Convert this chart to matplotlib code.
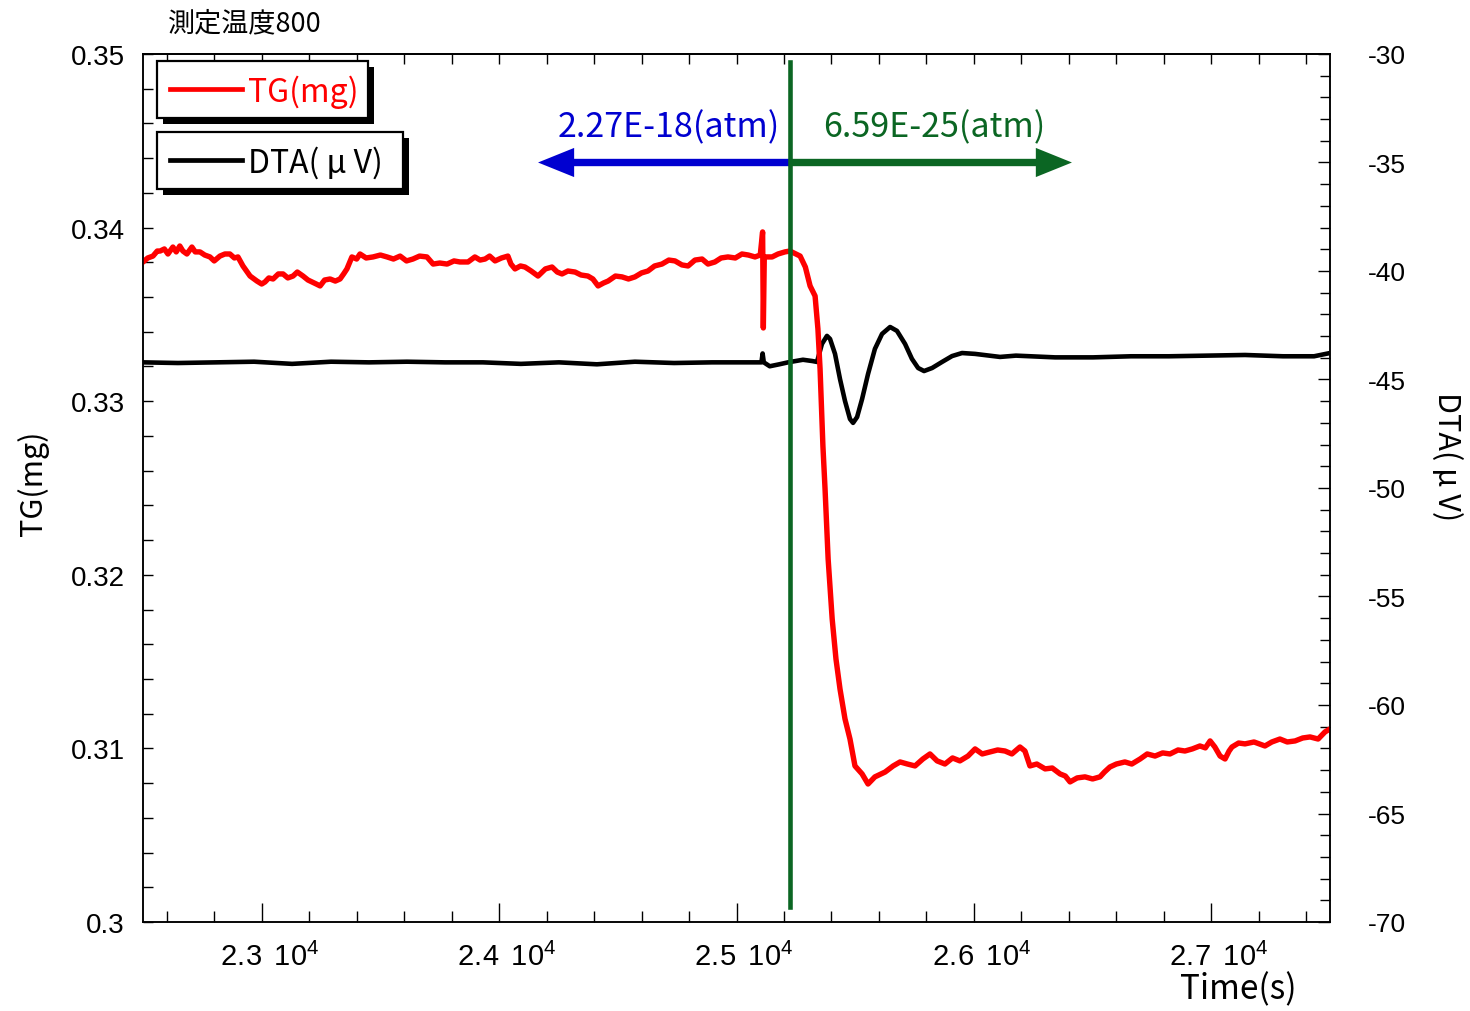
import matplotlib
matplotlib.use("Agg")
import matplotlib.pyplot as plt
from matplotlib import font_manager
from matplotlib.patches import Rectangle
from matplotlib.lines import Line2D
from matplotlib.ticker import MultipleLocator, FuncFormatter

# ---- data -------------------------------------------------------------
tg_time = [22500, 22520, 22542, 22560, 22572, 22590, 22605, 22626, 22640, 22655,
           22668, 22685, 22706, 22720, 22740, 22760, 22782, 22800, 22824, 22845,
           22866, 22885, 22900, 22921, 22951, 22980, 23000, 23014, 23030, 23048,
           23070, 23090, 23110, 23132, 23150, 23174, 23195, 23212, 23230, 23246,
           23265, 23288, 23310, 23330, 23345, 23359, 23380, 23400, 23414, 23440,
           23469, 23500, 23528, 23555, 23583, 23610, 23637, 23665, 23696, 23722,
           23750, 23781, 23810, 23835, 23869, 23898, 23920, 23941, 23960, 23983,
           24010, 24037, 24050, 24067, 24090, 24109, 24135, 24164, 24195, 24223,
           24245, 24265, 24290, 24320, 24345, 24374, 24395, 24417, 24440, 24459,
           24490, 24518, 24545, 24572, 24600, 24627, 24655, 24686, 24715, 24741,
           24770, 24796, 24825, 24855, 24880, 24909, 24935, 24964, 24995, 25023,
           25050, 25078, 25100, 25110, 25113, 25117, 25150, 25175, 25204, 25225,
           25250, 25268, 25290, 25310, 25331, 25343, 25352, 25364, 25373, 25386,
           25403, 25419, 25436, 25457, 25478, 25499, 25529, 25554, 25583, 25626,
           25660, 25689, 25720, 25752, 25785, 25815, 25845, 25878, 25910, 25941,
           25975, 26005, 26035, 26068, 26100, 26131, 26160, 26194, 26215, 26236,
           26265, 26300, 26330, 26363, 26385, 26405, 26435, 26468, 26500, 26531,
           26550, 26573, 26600, 26636, 26665, 26700, 26730, 26763, 26795, 26826,
           26860, 26889, 26920, 26952, 26975, 26995, 27015, 27037, 27058, 27075,
           27087, 27115, 27142, 27180, 27226, 27255, 27289, 27320, 27353, 27385,
           27416, 27450, 27479, 27500]
tg_mg = [0.33802, 0.33825, 0.33836, 0.33865, 0.33865, 0.33877, 0.33848, 0.33888, 0.33860, 0.33894,
         0.33865, 0.33848, 0.33888, 0.33860, 0.33860, 0.33842, 0.33831, 0.33808, 0.33836, 0.33848,
         0.33848, 0.33825, 0.33831, 0.33779, 0.33721, 0.33692, 0.33675, 0.33687, 0.33710, 0.33704,
         0.33733, 0.33733, 0.33710, 0.33721, 0.33744, 0.33721, 0.33698, 0.33687, 0.33675, 0.33664,
         0.33698, 0.33704, 0.33692, 0.33704, 0.33733, 0.33762, 0.33831, 0.33819, 0.33848, 0.33825,
         0.33831, 0.33842, 0.33831, 0.33819, 0.33836, 0.33808, 0.33819, 0.33836, 0.33831, 0.33790,
         0.33796, 0.33790, 0.33808, 0.33802, 0.33802, 0.33831, 0.33813, 0.33819, 0.33836, 0.33808,
         0.33825, 0.33836, 0.33790, 0.33762, 0.33779, 0.33773, 0.33750, 0.33721, 0.33762, 0.33773,
         0.33744, 0.33733, 0.33750, 0.33744, 0.33727, 0.33721, 0.33704, 0.33664, 0.33681, 0.33692,
         0.33721, 0.33716, 0.33704, 0.33716, 0.33739, 0.33750, 0.33779, 0.33790, 0.33813, 0.33808,
         0.33785, 0.33779, 0.33813, 0.33819, 0.33790, 0.33802, 0.33825, 0.33831, 0.33825, 0.33848,
         0.33842, 0.33831, 0.33842, 0.33975, 0.33422, 0.33831, 0.33831, 0.33848, 0.33860, 0.33865,
         0.33848, 0.33836, 0.33773, 0.33664, 0.33606, 0.33416, 0.33186, 0.32742, 0.32494, 0.32091,
         0.31746, 0.31515, 0.31342, 0.31170, 0.31054, 0.30899, 0.30853, 0.30795, 0.30836, 0.30864,
         0.30899, 0.30922, 0.30910, 0.30899, 0.30939, 0.30968, 0.30928, 0.30910, 0.30945, 0.30928,
         0.30956, 0.30997, 0.30968, 0.30980, 0.30991, 0.30985, 0.30968, 0.31008, 0.30985, 0.30899,
         0.30910, 0.30882, 0.30887, 0.30853, 0.30841, 0.30807, 0.30830, 0.30836, 0.30824, 0.30836,
         0.30864, 0.30893, 0.30910, 0.30922, 0.30910, 0.30939, 0.30968, 0.30956, 0.30974, 0.30968,
         0.30991, 0.30985, 0.30997, 0.31014, 0.31003, 0.31043, 0.31008, 0.30956, 0.30939, 0.30985,
         0.31008, 0.31031, 0.31026, 0.31037, 0.31014, 0.31037, 0.31054, 0.31037, 0.31043, 0.31060,
         0.31066, 0.31054, 0.31095, 0.31112]

dta_time = [22500, 22647, 22808, 22968, 23128, 23292, 23452, 23612, 23772, 23932,
            24092, 24252, 24412, 24572, 24737, 24897, 25057, 25105, 25110, 25115,
            25140, 25180, 25217, 25280, 25320, 25339, 25360, 25381, 25394, 25415,
            25436, 25457, 25478, 25491, 25508, 25529, 25554, 25583, 25613, 25647,
            25676, 25710, 25739, 25765, 25790, 25824, 25866, 25908, 25950, 26005,
            26110, 26177, 26342, 26502, 26662, 26822, 26982, 27142, 27302, 27433,
            27500]
dta_uv = [-44.21, -44.24, -44.21, -44.18, -44.28, -44.18, -44.21, -44.18, -44.21, -44.21,
          -44.28, -44.21, -44.30, -44.18, -44.24, -44.21, -44.21, -44.21, -43.80, -44.21,
          -44.39, -44.30, -44.21, -44.09, -44.15, -44.19, -43.36, -42.99, -43.13, -43.82,
          -44.98, -45.99, -46.82, -47.00, -46.73, -45.90, -44.75, -43.59, -42.90, -42.58,
          -42.76, -43.36, -44.05, -44.47, -44.61, -44.47, -44.19, -43.92, -43.78, -43.82,
          -43.96, -43.90, -43.98, -43.98, -43.93, -43.93, -43.90, -43.87, -43.93, -43.93,
          -43.78]

switch_time = 25225
left_arrow_tip = 24164
right_arrow_tip = 26413
arrow_level = -35
pressure_before = "2.27E-18(atm)"
pressure_after = "6.59E-25(atm)"
title_text = "測定温度800"
tg_label = "TG(mg)"
dta_label = "DTA( μ V)"
time_label = "Time(s)"

# ---- fonts ------------------------------------------------------------
installed = {f.name for f in font_manager.fontManager.ttflist}
def pick(*names):
    for n in names:
        if n in installed:
            return n
    return "DejaVu Sans"

sans = pick("Liberation Sans", "Arial", "DejaVu Sans")
label_font = pick("Noto Sans Mono CJK JP", "Noto Sans CJK JP", "DejaVu Sans Mono")
cjk = pick("Noto Sans CJK JP", "Noto Sans CJK SC")

plt.rcParams["font.family"] = [sans, "DejaVu Sans"]
plt.rcParams["mathtext.fontset"] = "custom"
plt.rcParams["mathtext.rm"] = sans
plt.rcParams["mathtext.default"] = "regular"

RED = "#ff0000"
BLUE = "#0000d0"
GREEN = "#0b6623"
LFAM = [label_font, "DejaVu Sans"]

W, H = 1470, 1012
fig = plt.figure(figsize=(W / 100, H / 100), dpi=100)
L, R, T, B = 143, 1330, 55, 923
ax = fig.add_axes([L / W, (H - B) / H, (R - L) / W, (B - T) / H])
tw = ax.twinx()
ax.set_zorder(tw.get_zorder() + 1)
ax.patch.set_visible(False)

# curves
tw.plot(dta_time, dta_uv, color="black", lw=3.3, solid_joinstyle="round")
ax.plot(tg_time, tg_mg, color=RED, lw=3.9, solid_joinstyle="round")

ax.set_xlim(22500, 27500)
ax.set_ylim(0.30, 0.35)
tw.set_ylim(-70, -30)

# ticks
def time_fmt(v, pos):
    return f"$\\;\\;{v/1e4:.1f}\\;\\,10^{{4}}$"

ax.xaxis.set_major_locator(MultipleLocator(1000))
ax.xaxis.set_minor_locator(MultipleLocator(200))
ax.xaxis.set_major_formatter(FuncFormatter(time_fmt))
ax.yaxis.set_major_locator(MultipleLocator(0.01))
ax.yaxis.set_minor_locator(MultipleLocator(0.002))
ax.yaxis.set_major_formatter(FuncFormatter(lambda v, p: "0.3" if abs(v - 0.3) < 1e-9 else f"{v:.2f}"))
tw.yaxis.set_major_locator(MultipleLocator(5))
tw.yaxis.set_minor_locator(MultipleLocator(1))
tw.yaxis.set_major_formatter(FuncFormatter(lambda v, p: f"-{abs(v):.0f}"))

ax.tick_params(axis="x", which="major", direction="in", length=14, width=1.0, pad=14, labelsize=21)
ax.tick_params(axis="x", which="minor", direction="in", length=8, width=1.0)
ax.tick_params(axis="y", which="both", direction="in", length=7, width=1.0, pad=13, labelsize=20)
tw.tick_params(axis="y", which="major", direction="in", length=9, width=1.0, pad=27, labelsize=19)
tw.tick_params(axis="y", which="minor", direction="in", length=7, width=1.0)

top = ax.secondary_xaxis("top")
top.xaxis.set_major_locator(MultipleLocator(200))
top.tick_params(axis="x", which="major", direction="in", length=7, width=1.0, labeltop=False)
top.xaxis.set_major_formatter(FuncFormatter(lambda v, p: ""))
top.xaxis.set_minor_locator(MultipleLocator(1e9))

for a in (ax, tw):
    for s in a.spines.values():
        s.set_linewidth(1.1)
top.spines["top"].set_linewidth(1.1)

# axis labels
ax.set_ylabel(tg_label, family=LFAM, fontsize=22)
ax.yaxis.set_label_coords(-0.079, 0.507)
tw.set_ylabel(dta_label, family=LFAM, fontsize=22, rotation=-90, va="center")
tw.yaxis.set_label_coords(1.098, 0.537)
fig.text(1297 / W, 1 - 990 / H, time_label, family=LFAM, fontsize=24,
         ha="right", va="center")
fig.text(168 / W, 1 - 24 / H, title_text, family=[cjk, "DejaVu Sans"], fontsize=19.5,
         ha="left", va="center")

# switching line and pressure arrows
ax.axvline(switch_time, ymin=0.017, ymax=0.991, color=GREEN, lw=3.3, zorder=5)
arrow_kw = dict(arrowstyle="simple,head_length=2.6,head_width=2.1,tail_width=0.53",
                mutation_scale=10, lw=0, shrinkA=0, shrinkB=0)
ax.annotate("", xy=(left_arrow_tip, arrow_level), xytext=(switch_time, arrow_level),
            xycoords=tw.transData, textcoords=tw.transData,
            arrowprops=dict(color=BLUE, **arrow_kw), zorder=4)
ax.annotate("", xy=(right_arrow_tip, arrow_level), xytext=(switch_time, arrow_level),
            xycoords=tw.transData, textcoords=tw.transData,
            arrowprops=dict(color=GREEN, **arrow_kw), zorder=4)
ax.text(25183, -33.35, pressure_before, transform=tw.transData, color=BLUE,
        family=LFAM, fontsize=24.5, ha="right", va="center", zorder=6)
ax.text(25364, -33.35, pressure_after, transform=tw.transData, color=GREEN,
        family=LFAM, fontsize=24.5, ha="left", va="center", zorder=6)

# legend boxes with drop shadows
def fx(x):
    return x / W

def fy(y):
    return 1 - y / H

def legend_box(x0, y0, x1, y1, color, label, text_color):
    sh = 6
    fig.add_artist(Rectangle((fx(x0 + sh), fy(y1 + sh)), fx(x1 - x0), (y1 - y0) / H,
                             transform=fig.transFigure, facecolor="black", edgecolor="black",
                             lw=0, zorder=10))
    fig.add_artist(Rectangle((fx(x0), fy(y1)), fx(x1 - x0), (y1 - y0) / H,
                             transform=fig.transFigure, facecolor="white", edgecolor="black",
                             lw=1.6, zorder=11))
    ym = (y0 + y1) / 2
    fig.add_artist(Line2D([fx(x0 + 13), fx(x0 + 85)], [fy(ym - 1), fy(ym - 1)],
                          transform=fig.transFigure, color=color, lw=3.4, zorder=12))
    fig.text(fx(x0 + 91), fy(ym + 2), label, color=text_color, family=LFAM,
             fontsize=23, ha="left", va="center", zorder=12)

legend_box(157, 62, 368, 119, RED, tg_label, RED)
legend_box(157, 133, 403, 190, "black", dta_label, "black")

fig.savefig("out.png", dpi=100)
